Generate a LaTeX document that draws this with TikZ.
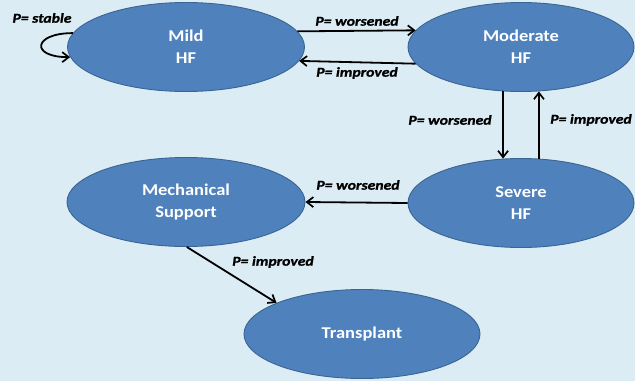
\documentclass[tikz,border=0pt]{standalone}
\usepackage{fontspec}
\setmainfont{Carlito}
\newfontfamily\statefont[FakeStretch=1.12]{Carlito}
\newfontfamily\probfont[FakeStretch=1.16,FakeBold=1.2]{Carlito}
\usetikzlibrary{shapes.geometric,arrows.meta}
\definecolor{bgblue}{HTML}{DCECF4}
\definecolor{statefill}{HTML}{4F81BD}
\definecolor{stateedge}{HTML}{3A6593}
\tikzset{
  state/.style={ellipse, draw=stateedge, line width=0.9pt, fill=statefill,
    text=white, font=\statefont\fontsize{16.5}{22}\selectfont\bfseries, align=center,
    minimum width=#1, minimum height=89pt, inner sep=0pt},
  state/.default=236pt,
  trans/.style={draw=black, line width=1.8pt,
    -{Straight Barb[length=6.5pt,width=10pt,line width=1.7pt]}},
  plabel/.style={font=\probfont\fontsize{13.5}{15}\selectfont\bfseries\itshape, text=black, inner sep=1pt}
}
\begin{document}
\begin{tikzpicture}[x=1pt,y=-1pt]
  % canvas
  \fill[bgblue] (0,0) rectangle (635,381);
  \useasboundingbox (0,0) rectangle (635,381);

  % states
  \node[state=237pt] (mild) at (186,47) {Mild\\HF};
  \node[state=226pt] (moderate) at (521,47) {Moderate\\HF};
  \node[state=226pt] (severe) at (521,203) {Severe\\HF};
  \node[state=238pt] (mech) at (186,202) {Mechanical\\Support};
  \node[state=236pt] (transplant) at (362,334) {Transplant};

  % transitions
  \draw[trans] (mild.173) .. controls +(-40,0) and +(-40,0) .. (mild.185);
  \draw[trans] (mild.8) -- (moderate.171);
  \draw[trans] (moderate.-171) -- (mild.-7);
  \draw[trans] (moderate.-112) -- (severe.112);
  \draw[trans] (severe.68) -- (moderate.-68);
  \draw[trans] (severe.180) -- (mech.0);
  \draw[trans] (mech.-89) -- (transplant.160);

  % transition labels
  \node[plabel] (lstable) at (42,18) {P= stable};
  \node[plabel] (lw1) at (357,21) {P= worsened};
  \node[plabel] (li1) at (357,73) {P= improved};
  \node[plabel] (lw2) at (450,120) {P= worsened};
  \node[plabel] (li2) at (591,120) {P= improved};
  \node[plabel] (lw3) at (358,185) {P= worsened};
  \node[plabel] (li3) at (273,262) {P= improved};
\end{tikzpicture}
\end{document}
